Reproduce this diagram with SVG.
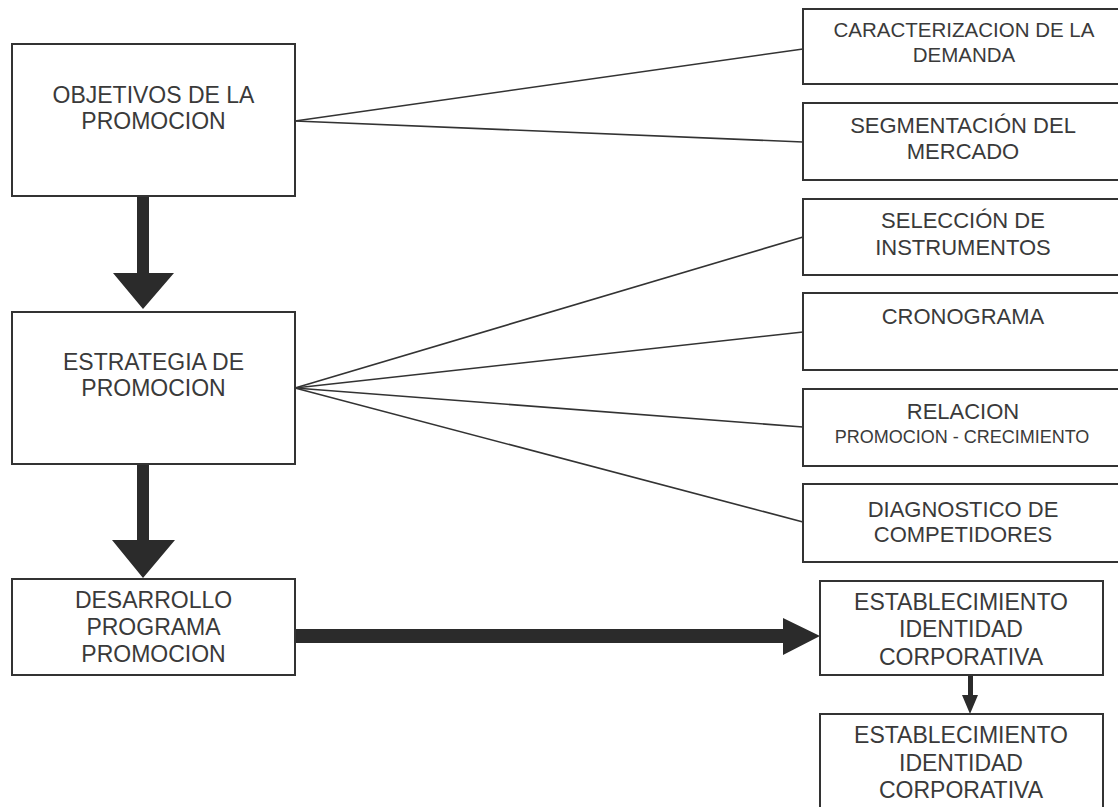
<svg xmlns="http://www.w3.org/2000/svg" width="1118" height="807" viewBox="0 0 1118 807">
<style>
.box{fill:#fff;stroke:#333;stroke-width:2}
.t{font-family:"Liberation Sans",Arial,sans-serif;fill:#3a3a3a;text-anchor:middle}
.l{font-size:23px}
.r{font-size:22px}
.s{font-size:18px}
.ln{stroke:#333;stroke-width:1.6;fill:none}
.ar{fill:#2b2b2b}
</style>
<rect width="1118" height="807" fill="#fff"/>
<g id="connectors">
<line class="ln" x1="295" y1="121" x2="803" y2="49"/>
<line class="ln" x1="295" y1="121" x2="803" y2="142"/>
<line class="ln" x1="295" y1="388" x2="803" y2="237"/>
<line class="ln" x1="295" y1="388" x2="803" y2="332"/>
<line class="ln" x1="295" y1="388" x2="803" y2="427"/>
<line class="ln" x1="295" y1="388" x2="803" y2="522"/>
<path class="ar" d="M137,196 H149 V273 H174 L143,309 L113,273 H137 Z"/>
<path class="ar" d="M137,464 H149 V540 H175 L143,578 L112,540 H137 Z"/>
<path class="ar" d="M296,629 H783 V618 L820,636 L783,655 V643 H296 Z"/>
<path class="ar" d="M968,675 H973 V695 H978 L970,714 L962,695 H968 Z"/>
</g>
<g id="objetivos">
<rect class="box" x="12" y="44" width="283" height="152"/>
<text class="t l" x="153.5" y="103">OBJETIVOS DE LA</text>
<text class="t l" x="153.5" y="129">PROMOCION</text>
</g>
<g id="estrategia">
<rect class="box" x="12" y="312" width="283" height="152"/>
<text class="t l" x="153.5" y="370">ESTRATEGIA DE</text>
<text class="t l" x="153.5" y="396">PROMOCION</text>
</g>
<g id="desarrollo">
<rect class="box" x="12" y="579" width="283" height="96"/>
<text class="t l" x="153.5" y="608">DESARROLLO</text>
<text class="t l" x="153.5" y="635">PROGRAMA</text>
<text class="t l" x="153.5" y="662">PROMOCION</text>
</g>
<g id="caracterizacion">
<rect class="box" x="803" y="9" width="330" height="75"/>
<text class="t" style="font-size:20.5px" x="964" y="37">CARACTERIZACION DE LA</text>
<text class="t" style="font-size:20.5px" x="964" y="62">DEMANDA</text>
</g>
<g id="segmentacion">
<rect class="box" x="803" y="103" width="330" height="77"/>
<text class="t r" x="963" y="133">SEGMENTACIÓN DEL</text>
<text class="t r" x="963" y="159">MERCADO</text>
</g>
<g id="seleccion">
<rect class="box" x="803" y="199" width="330" height="76"/>
<text class="t r" x="963" y="228">SELECCIÓN DE</text>
<text class="t r" x="963" y="255">INSTRUMENTOS</text>
</g>
<g id="cronograma">
<rect class="box" x="803" y="293" width="330" height="77"/>
<text class="t r" x="963" y="324">CRONOGRAMA</text>
</g>
<g id="relacion">
<rect class="box" x="803" y="389" width="330" height="77"/>
<text class="t r" x="963" y="419">RELACION</text>
<text class="t s" x="962" y="443">PROMOCION - CRECIMIENTO</text>
</g>
<g id="diagnostico">
<rect class="box" x="803" y="484" width="330" height="78"/>
<text class="t r" x="963" y="517">DIAGNOSTICO DE</text>
<text class="t r" x="963" y="542">COMPETIDORES</text>
</g>
<g id="establecimiento1">
<rect class="box" x="820" y="581" width="283" height="94"/>
<text class="t l" x="961" y="610">ESTABLECIMIENTO</text>
<text class="t l" x="961" y="637">IDENTIDAD</text>
<text class="t l" x="961" y="665">CORPORATIVA</text>
</g>
<g id="establecimiento2">
<rect class="box" x="820" y="714" width="283" height="110"/>
<text class="t l" x="961" y="743">ESTABLECIMIENTO</text>
<text class="t l" x="961" y="771">IDENTIDAD</text>
<text class="t l" x="961" y="798">CORPORATIVA</text>
</g>
</svg>
